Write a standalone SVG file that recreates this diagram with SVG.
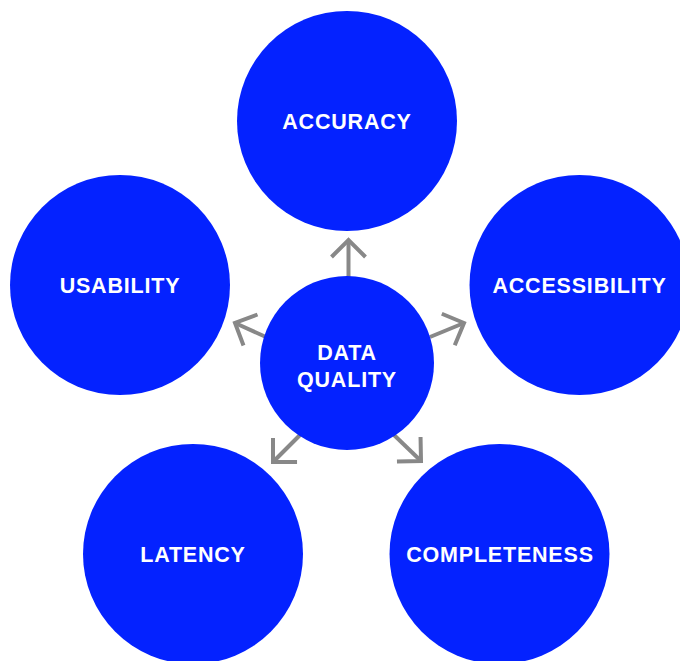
<svg xmlns="http://www.w3.org/2000/svg" width="680" height="661" viewBox="0 0 680 661">
<style>
.node circle{fill:#0422FF}
.node text{fill:#fff;font-family:"Liberation Sans",Arial,sans-serif;font-weight:bold;font-size:21.5px;letter-spacing:0.8px;text-anchor:middle}
.conn line{stroke:#888;stroke-width:4;fill:none}
</style>
<defs>
<marker id="chev" markerUnits="userSpaceOnUse" viewBox="-22 -20 26 40" refX="0" refY="0" markerWidth="26" markerHeight="40" orient="auto">
<path d="M-17,-17 L0,0 L-17,17" fill="none" stroke="#888" stroke-width="4" stroke-linejoin="miter"/>
</marker>
</defs>
<rect width="680" height="661" fill="#fff"/>
<g id="accuracy" class="node"><circle cx="347" cy="121" r="110"/><text x="347" y="128.7">ACCURACY</text></g>
<g id="usability" class="node"><circle cx="120" cy="285" r="110"/><text x="120" y="292.7">USABILITY</text></g>
<g id="accessibility" class="node"><circle cx="579.5" cy="285" r="110"/><text x="579.5" y="292.7">ACCESSIBILITY</text></g>
<g id="latency" class="node"><circle cx="193" cy="554" r="110"/><text x="193" y="561.7">LATENCY</text></g>
<g id="completeness" class="node"><circle cx="499.5" cy="554" r="110"/><text x="500" y="561.7">COMPLETENESS</text></g>
<g id="connectors" class="conn">
<line x1="348.5" y1="277" x2="348.5" y2="240" marker-end="url(#chev)"/>
<line x1="266" y1="337" x2="235" y2="323" marker-end="url(#chev)"/>
<line x1="430" y1="337" x2="464" y2="323" marker-end="url(#chev)"/>
<line x1="300" y1="435" x2="273" y2="462" marker-end="url(#chev)"/>
<line x1="394" y1="435" x2="421" y2="461" marker-end="url(#chev)"/>
</g>
<g id="data-quality" class="node"><circle cx="347" cy="363" r="87"/><text x="347" y="360">DATA</text><text x="347" y="386.5">QUALITY</text></g>
</svg>
